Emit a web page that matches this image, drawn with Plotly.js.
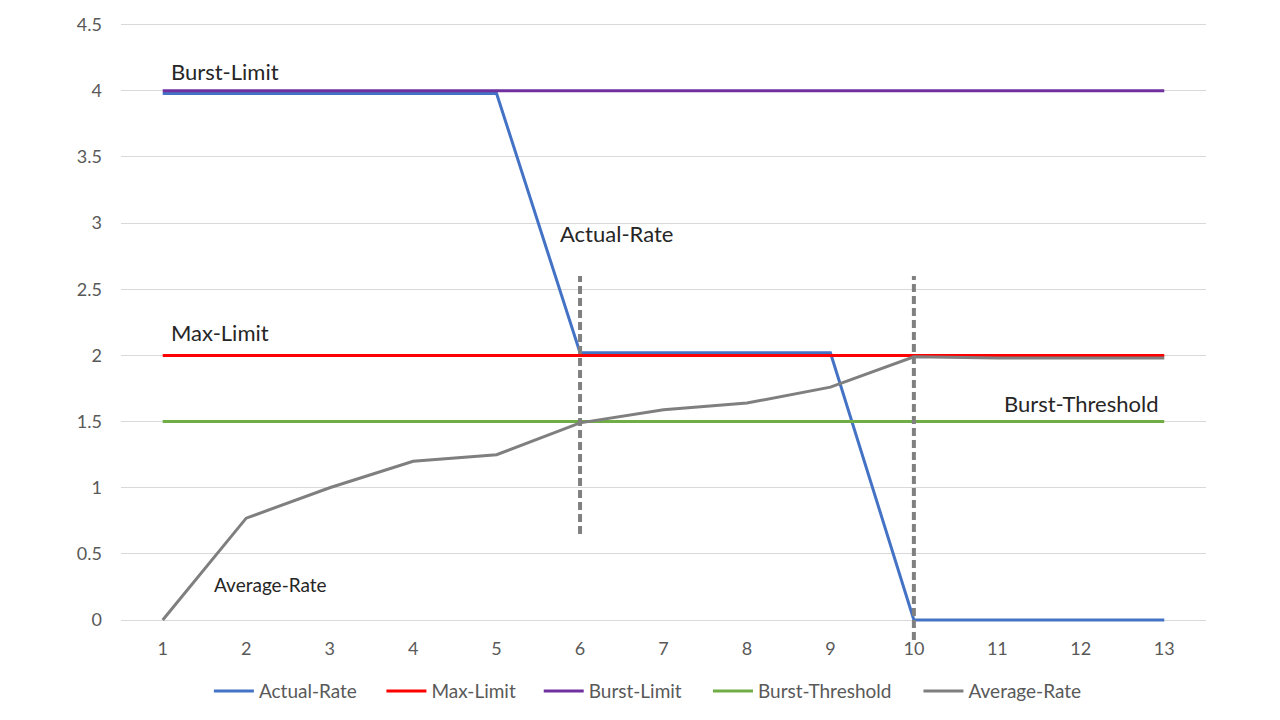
<!DOCTYPE html>
<html>
<head>
<meta charset="utf-8">
<script src="https://cdn.plot.ly/plotly-3.0.1.min.js"></script>
<style>
  html, body { margin: 0; padding: 0; background: #fff; }
  #chart { width: 1280px; height: 720px; }
</style>
</head>
<body>
<div id="chart"></div>
<script>
// x positions (time steps)
let steps = [1, 2, 3, 4, 5, 6, 7, 8, 9, 10, 11, 12, 13];

// series values
let actualRate = [3.98, 3.98, 3.98, 3.98, 3.98, 2.02, 2.02, 2.02, 2.02, 0, 0, 0, 0];
let maxLimit = [2, 2, 2, 2, 2, 2, 2, 2, 2, 2, 2, 2, 2];
let burstLimit = [4, 4, 4, 4, 4, 4, 4, 4, 4, 4, 4, 4, 4];
let burstThreshold = [1.5, 1.5, 1.5, 1.5, 1.5, 1.5, 1.5, 1.5, 1.5, 1.5, 1.5, 1.5, 1.5];
let averageRate = [0, 0.77, 1.0, 1.2, 1.25, 1.49, 1.59, 1.64, 1.76, 1.99, 1.98, 1.98, 1.98];

let seriesNames = ['Actual-Rate', 'Max-Limit', 'Burst-Limit', 'Burst-Threshold', 'Average-Rate'];
let seriesColors = ['#4472C4', '#FF0000', '#7030A0', '#70AD47', '#7F7F7F'];
let seriesValues = [actualRate, maxLimit, burstLimit, burstThreshold, averageRate];

let yTicks = [0, 0.5, 1, 1.5, 2, 2.5, 3, 3.5, 4, 4.5];
let yTickText = ['0', '0.5', '1', '1.5', '2', '2.5', '3', '3.5', '4', '4.5'];
let yRange = [-0.03, 4.52];

// vertical dashed markers (the one at 10 runs a little below the axis)
let dashX = [6, 10];
let dashTop = [2.6, 2.6];
let dashBottom = [0.65, -0.15];

// each series gets its own legend box so the spacing matches the original
let legendX = [0.081, 0.240, 0.385, 0.541, 0.735];
let legendIds = ['legend', 'legend2', 'legend3', 'legend4', 'legend5'];

let traces = seriesNames.map((name, i) => ({
    x: steps,
    y: seriesValues[i],
    name: name,
    mode: 'lines',
    type: 'scatter',
    legend: legendIds[i],
    line: {color: seriesColors[i], width: 3}
}));

// y in paper units so the line is not clipped at the plot edge
let toPaper = v => (v - yRange[0]) / (yRange[1] - yRange[0]);
let shapes = dashX.map((x, i) => ({
    type: 'line',
    xref: 'x', yref: 'paper',
    x0: x, x1: x, y0: toPaper(dashBottom[i]), y1: toPaper(dashTop[i]),
    line: {color: '#808080', width: 4, dash: '8px,4px'}
}));

function label(text, x, y, anchor, size) {
    return {
        text: text, x: x, y: y, xref: 'x', yref: 'y',
        xanchor: anchor, yanchor: 'middle', showarrow: false,
        font: {size: size, color: '#262626', family: 'Lato, sans-serif'}
    };
}

let layout = {
    width: 1280,
    height: 720,
    paper_bgcolor: '#fff',
    plot_bgcolor: '#fff',
    margin: {l: 121, r: 74, t: 22, b: 96, autoexpand: false},
    font: {family: 'Lato, sans-serif', size: 18, color: '#595959'},
    showlegend: true,
    xaxis: {
        range: [0.5, 13.5],
        tickvals: steps,
        showgrid: false,
        zeroline: false,
        showline: false,
        ticks: '',
        ticklabelstandoff: 12,
        tickfont: {size: 18, color: '#595959'}
    },
    yaxis: {
        range: yRange,
        tickvals: yTicks,
        ticktext: yTickText,
        showgrid: true,
        gridcolor: '#D9D9D9',
        gridwidth: 1,
        zeroline: false,
        showline: false,
        ticks: '',
        ticklabelstandoff: 18,
        tickfont: {size: 18, color: '#595959'}
    },
    shapes: shapes,
    annotations: [
        label('Burst-Limit', 1.08, 4.145, 'left', 22),
        label('Actual-Rate', 5.74, 2.92, 'left', 22),
        label('Max-Limit', 1.08, 2.17, 'left', 22),
        label('Burst-Threshold', 12.95, 1.64, 'right', 22),
        label('Average-Rate', 1.59, 0.27, 'left', 19)
    ]
};

legendIds.forEach((id, i) => {
    layout[id] = {
        orientation: 'h',
        x: legendX[i], xanchor: 'left',
        y: -0.08, yanchor: 'top',
        itemwidth: 40,
        bgcolor: 'rgba(0,0,0,0)',
        font: {size: 19, color: '#595959'}
    };
});

Plotly.newPlot('chart', traces, layout, {displayModeBar: false, staticPlot: true});
</script>
</body>
</html>
